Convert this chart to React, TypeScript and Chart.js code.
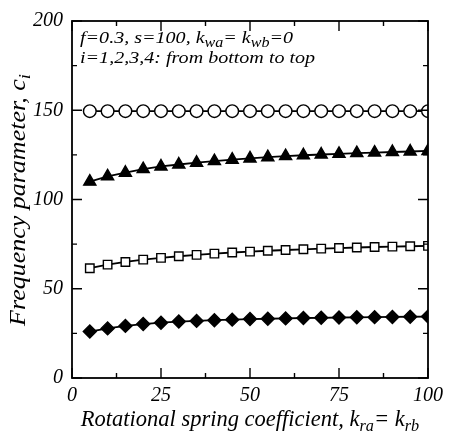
import React, { useEffect, useRef } from "react";
import { Chart, registerables } from "chart.js";

Chart.register(...registerables);

const xValues = [5, 10, 15, 20, 25, 30, 35, 40, 45, 50, 55, 60, 65, 70, 75, 80, 85, 90, 95, 100];
const mode1 = [26, 27.8, 29.2, 30.2, 31, 31.6, 32, 32.4, 32.7, 33, 33.2, 33.4, 33.6, 33.7, 33.9, 34, 34.1, 34.2, 34.3, 34.4];
const mode2 = [61.5, 63.5, 65, 66.3, 67.3, 68.2, 69, 69.7, 70.3, 70.8, 71.3, 71.7, 72.1, 72.5, 72.8, 73.1, 73.4, 73.6, 73.8, 74];
const mode3 = [110, 113, 115, 117, 118.5, 119.6, 120.6, 121.5, 122.3, 123, 123.7, 124.3, 124.8, 125.2, 125.6, 126, 126.3, 126.6, 126.9, 127.2];
const mode4 = [149.5, 149.5, 149.5, 149.5, 149.5, 149.5, 149.5, 149.5, 149.5, 149.5, 149.5, 149.5, 149.5, 149.5, 149.5, 149.5, 149.5, 149.5, 149.5, 149.5];
const xTicks = [0, 25, 50, 75, 100];
const yTicks = [0, 50, 100, 150, 200];

const FONT = '"Liberation Serif", "DejaVu Serif", serif';

type Part = { t: string; sub?: boolean };

function drawRich(ctx: CanvasRenderingContext2D, parts: Part[], x: number, y: number, size: number, align: "left" | "center", subRatio = 0.72) {
  const subSize = size * subRatio;
  const widths = parts.map((p) => {
    ctx.font = `italic ${p.sub ? subSize : size}px ${FONT}`;
    return ctx.measureText(p.t).width;
  });
  const total = widths.reduce((a, b) => a + b, 0);
  let cx = align === "center" ? x - total / 2 : x;
  ctx.textBaseline = "alphabetic";
  ctx.textAlign = "left";
  parts.forEach((p, i) => {
    ctx.font = `italic ${p.sub ? subSize : size}px ${FONT}`;
    ctx.fillText(p.t, cx, p.sub ? y + size * 0.22 : y);
    cx += widths[i];
  });
}

const framePlugin = {
  id: "frame",
  afterDraw(chart: any) {
    const { ctx, chartArea: a, scales } = chart;
    const xs = scales.x;
    const ys = scales.y;
    ctx.save();
    ctx.strokeStyle = "#000";
    ctx.fillStyle = "#000";
    ctx.lineWidth = 1.8;
    ctx.strokeRect(a.left, a.top, a.right - a.left, a.bottom - a.top);
    ctx.lineWidth = 1.4;
    const major = 10;
    const minor = 5;
    for (let v = xs.min; v <= xs.max + 1e-9; v += 12.5) {
      const px = xs.getPixelForValue(v);
      const len = Math.abs(v % 25) < 1e-9 ? major : minor;
      ctx.beginPath();
      ctx.moveTo(px, a.bottom);
      ctx.lineTo(px, a.bottom - len);
      ctx.moveTo(px, a.top);
      ctx.lineTo(px, a.top + len);
      ctx.stroke();
    }
    for (let v = ys.min; v <= ys.max + 1e-9; v += 25) {
      const py = ys.getPixelForValue(v);
      const len = Math.abs(v % 50) < 1e-9 ? major : minor;
      ctx.beginPath();
      ctx.moveTo(a.left, py);
      ctx.lineTo(a.left + len, py);
      ctx.moveTo(a.right, py);
      ctx.lineTo(a.right - len, py);
      ctx.stroke();
    }
    // annotation
    ctx.save();
    ctx.translate(a.left + 8, 0);
    ctx.scale(1.18, 1);
    drawRich(ctx, [{ t: "f=0.3, s=100, k" }, { t: "wa", sub: true }, { t: "= k" }, { t: "wb", sub: true }, { t: "=0" }], 0, 43, 17, "left", 0.8);
    drawRich(ctx, [{ t: "i=1,2,3,4: from bottom to top" }], 0, 63, 17, "left");
    ctx.restore();
    // x title
    drawRich(ctx, [{ t: "Rotational spring coefficient, k" }, { t: "ra", sub: true }, { t: "= k" }, { t: "rb", sub: true }], (a.left + a.right) / 2, 426, 22.5, "center");
    // y title
    ctx.save();
    ctx.translate(25, 200);
    ctx.rotate(-Math.PI / 2);
    ctx.scale(1.13, 1);
    drawRich(ctx, [{ t: "Frequency parameter, c" }, { t: "i", sub: true }], 0, 0, 23, "center");
    ctx.restore();
    ctx.restore();
  },
};

export default function App() {
  const ref = useRef<HTMLCanvasElement | null>(null);
  useEffect(() => {
    document.body.style.margin = "0";
    if (!ref.current) return;
    const mk = (data: number[], style: string, filled: boolean, r: number) => ({
      data: xValues.map((x, i) => ({ x, y: data[i] })),
      borderColor: "#000",
      borderWidth: 1.8,
      pointStyle: style,
      pointRadius: r,
      pointBorderWidth: 1.4,
      pointBorderColor: "#000",
      pointBackgroundColor: filled ? "#000" : "#fff",
      tension: 0,
    });
    const chart = new Chart(ref.current, {
      type: "line",
      data: {
        datasets: [
          mk(mode1, "rectRot", true, 6.5),
          mk(mode2, "rect", false, 6),
          mk(mode3, "triangle", true, 7),
          mk(mode4, "circle", false, 6.3),
        ] as any,
      },
      options: {
        responsive: false,
        animation: false,
        layout: { padding: { top: 18, right: 15, left: 0, bottom: 0 } },
        plugins: { legend: { display: false }, tooltip: { enabled: false } },
        scales: {
          x: {
            type: "linear",
            min: 0,
            max: 100,
            afterFit(s: any) { s.height = 54; },
            afterBuildTicks(s: any) { s.ticks = xTicks.map((v) => ({ value: v })); },
            grid: { display: false, drawTicks: false },
            border: { display: false },
            ticks: { padding: 6, color: "#000", font: { family: FONT, size: 20, style: "italic" } },
          },
          y: {
            type: "linear",
            min: 0,
            max: 200,
            afterFit(s: any) { s.width = 72; },
            afterBuildTicks(s: any) { s.ticks = yTicks.map((v) => ({ value: v })); },
            grid: { display: false, drawTicks: false },
            border: { display: false },
            ticks: { padding: 9, color: "#000", font: { family: FONT, size: 20, style: "italic" } },
          },
        },
      },
      plugins: [framePlugin],
    });
    return () => chart.destroy();
  }, []);
  return <canvas ref={ref} width={449} height={432} style={{ display: "block", width: 449, height: 432 }} />;
}
